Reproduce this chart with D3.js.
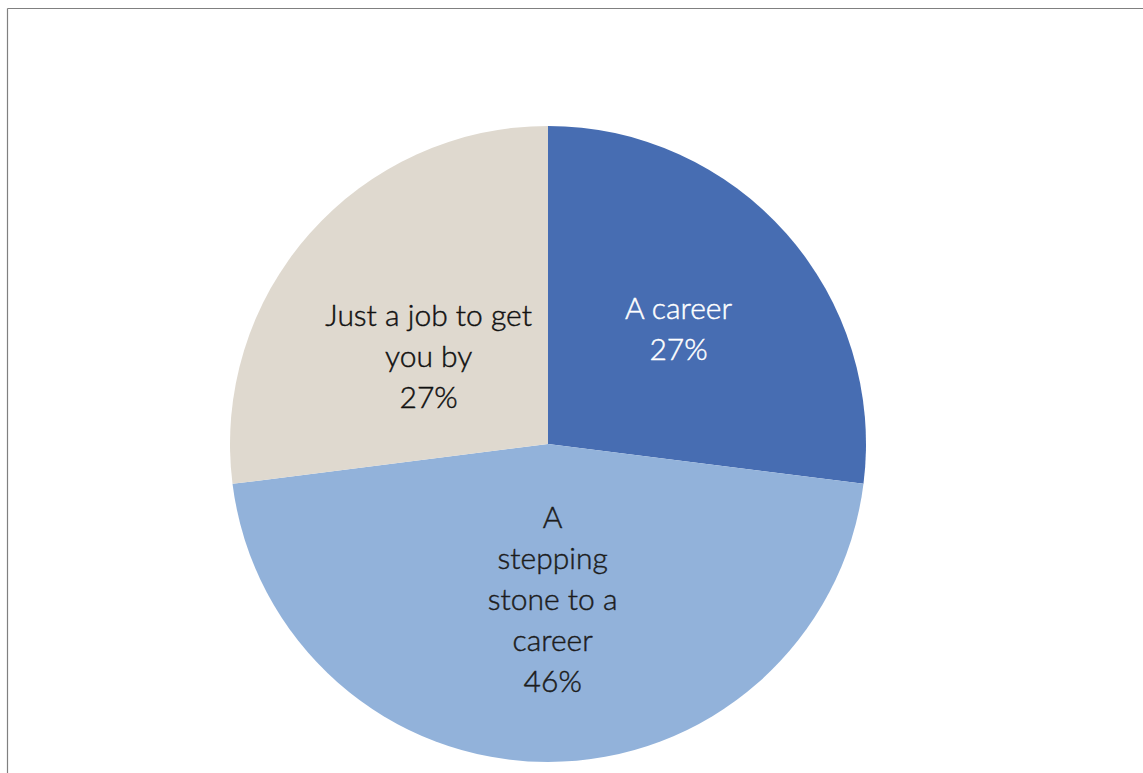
<!DOCTYPE html>
<html>
<head>
<meta charset="utf-8">
<script src="https://cdn.jsdelivr.net/npm/d3@7"></script>
<style>
  html, body { margin: 0; padding: 0; background: #ffffff; }
  svg { display: block; }
</style>
</head>
<body>
<svg id="chart" width="1143" height="773"></svg>
<script>
// Survey answers: how respondents view their current job
const categories = ["A career", "A stepping stone to a career", "Just a job to get you by"];
const shares = [27, 46, 27];
const labelLines = [
  ["A career", "27%"],
  ["A", "stepping", "stone to a", "career", "46%"],
  ["Just a job to get", "you by", "27%"]
];
const sliceColors = ["#476db2", "#92b2da", "#dfd9cf"];
const textColors = ["#ffffff", "#1c1c1c", "#111111"];

const svg = d3.select("#chart");
const W = 1143, H = 773;

// Frame lines (top and left)
svg.append("line").attr("x1", 7.5).attr("y1", 8.5).attr("x2", W).attr("y2", 8.5)
  .attr("stroke", "#808080").attr("stroke-width", 1.2);
svg.append("line").attr("x1", 7.5).attr("y1", 8.5).attr("x2", 7.5).attr("y2", H)
  .attr("stroke", "#808080").attr("stroke-width", 1.2);

const cx = 548, cy = 444, R = 318;
const g = svg.append("g").attr("transform", `translate(${cx},${cy})`);

const data = categories.map((c, i) => ({ name: c, value: shares[i], i }));
const pie = d3.pie().value(d => d.value).sort(null);
const arc = d3.arc().innerRadius(0).outerRadius(R);
const arcs = pie(data);

g.selectAll("path.slice").data(arcs).join("path")
  .attr("class", "slice")
  .attr("d", arc)
  .attr("fill", d => sliceColors[d.data.i]);

// label block distance from the centre, per slice
const labelRadius = [174, 156, 148];
const labelAngleShift = [0, -0.03, -0.09];
const lineH = 41;

arcs.forEach(a => {
  const i = a.data.i;
  const ang = (a.startAngle + a.endAngle) / 2 + labelAngleShift[i];
  const lx = Math.sin(ang) * labelRadius[i];
  const ly = -Math.cos(ang) * labelRadius[i];
  const lines = labelLines[i];
  const t = g.append("text")
    .attr("text-anchor", "middle")
    .attr("font-family", "Lato, 'Open Sans', sans-serif")
    .attr("font-weight", 300)
    .attr("font-size", 30)
    .attr("fill", textColors[i])
    .attr("stroke", textColors[i])
    .attr("stroke-width", 0.45);
  lines.forEach((s, k) => {
    t.append("tspan")
      .attr("x", lx)
      .attr("y", ly + (k - (lines.length - 1) / 2) * lineH)
      .attr("dy", "0.35em")
      .text(s);
  });
});
</script>
</body>
</html>
